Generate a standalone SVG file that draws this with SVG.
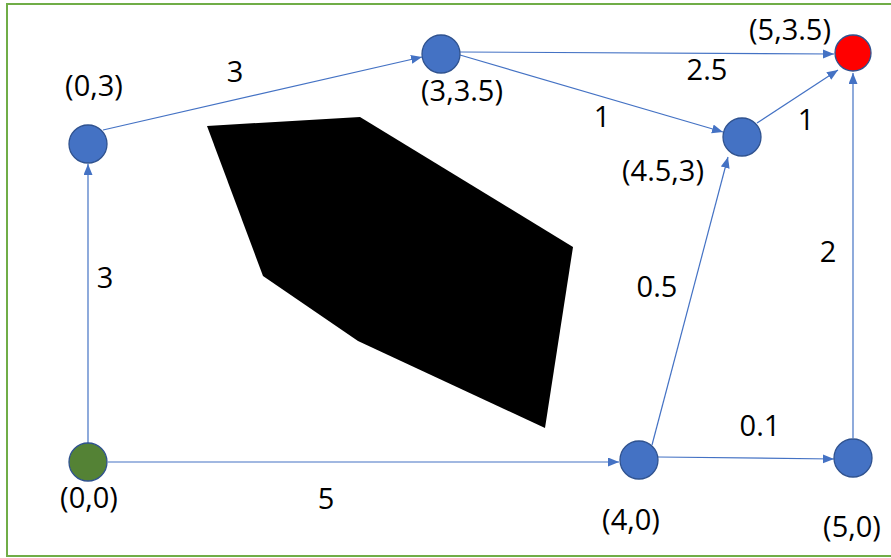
<svg xmlns="http://www.w3.org/2000/svg" width="891" height="558" viewBox="0 0 891 558">
<style>
.edge{stroke:#4472C4;stroke-width:1.2;fill:none;marker-end:url(#arr)}
.node{stroke:#2F528F;stroke-width:1.3}
.blue{fill:#4472C4}
.lbl{font-family:"Open Sans","Noto Sans",sans-serif;font-size:29px;fill:#000;text-anchor:middle}
</style>
<defs>
<marker id="arr" markerUnits="userSpaceOnUse" markerWidth="12" markerHeight="10" refX="11" refY="4.5" orient="auto">
<path d="M0,0 L11,4.5 L0,9 z" fill="#4472C4"/>
</marker>
</defs>
<rect width="891" height="558" fill="#fff"/>
<rect x="7" y="4" width="892" height="552" fill="none" stroke="#70AD47" stroke-width="2"/>
<polygon id="obstacle" points="207,126 360,117 573,247 545,428 358,341 263,276" fill="#000"/>
<g id="connectors">
<line class="edge" x1="88" y1="443" x2="88" y2="164"/>
<line class="edge" x1="103" y1="130" x2="422" y2="57"/>
<line class="edge" x1="108" y1="462" x2="619" y2="462"/>
<line class="edge" x1="460" y1="52" x2="834" y2="54"/>
<line class="edge" x1="460" y1="55" x2="723" y2="132"/>
<line class="edge" x1="757" y1="123" x2="838" y2="70"/>
<line class="edge" x1="652" y1="445" x2="728" y2="157"/>
<line class="edge" x1="658" y1="457" x2="834" y2="459"/>
<line class="edge" x1="853" y1="438" x2="853" y2="73"/>
</g>
<g id="edge-labels">
<text class="lbl" x="235" y="82">3</text>
<text class="lbl" x="707" y="80">2.5</text>
<text class="lbl" x="602" y="127">1</text>
<text class="lbl" x="806" y="130">1</text>
<text class="lbl" x="105" y="288">3</text>
<text class="lbl" x="657" y="297">0.5</text>
<text class="lbl" x="828" y="262">2</text>
<text class="lbl" x="760" y="436">0.1</text>
<text class="lbl" x="326" y="509">5</text>
</g>
<g id="n00"><circle class="node" cx="88" cy="462" r="19" fill="#548235"/><text class="lbl" x="89" y="508">(0,0)</text></g>
<g id="n03"><circle class="node blue" cx="88" cy="144" r="19"/><text class="lbl" x="94" y="96">(0,3)</text></g>
<g id="n335"><circle class="node blue" cx="441" cy="54" r="19"/><text class="lbl" x="462" y="101">(3,3.5)</text></g>
<g id="n535"><circle class="node" cx="853" cy="53" r="18" fill="#FF0000"/><text class="lbl" x="790" y="40">(5,3.5)</text></g>
<g id="n453"><circle class="node blue" cx="742" cy="137" r="19"/><text class="lbl" x="663" y="181">(4.5,3)</text></g>
<g id="n40"><circle class="node blue" cx="639" cy="460" r="19"/><text class="lbl" x="631" y="530">(4,0)</text></g>
<g id="n50"><circle class="node blue" cx="853" cy="458" r="19"/><text class="lbl" x="852" y="537">(5,0)</text></g>
</svg>
